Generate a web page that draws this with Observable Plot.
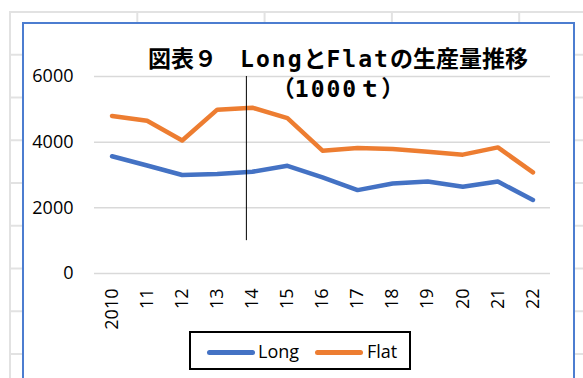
<!DOCTYPE html>
<html>
<head>
<meta charset="utf-8">
<script src="https://cdn.jsdelivr.net/npm/d3@7"></script>
<script src="https://cdn.jsdelivr.net/npm/@observablehq/plot@0.6"></script>
<style>
  html, body { margin: 0; padding: 0; background: #fff; }
  #page { position: relative; width: 583px; height: 378px; overflow: hidden; background: #fff; }
  #sheet {
    position: absolute; left: 9px; top: 11px; width: 700px; height: 500px;
    background-image:
      linear-gradient(to right, #e2e2e2 1.5px, transparent 1.5px),
      linear-gradient(to bottom, #e2e2e2 1.5px, transparent 1.5px);
    background-size: 127.3px 42.75px;
  }
  #box {
    position: absolute; left: 22px; top: 22px; width: 553px; height: 420px;
    box-sizing: border-box; border: 2.5px solid #4c7dd0; background: #fff;
  }
  #plot { position: absolute; left: 0; top: 0; }
  .title {
    position: absolute; left: 98px; width: 480px; text-align: center;
    font-family: "Noto Sans CJK JP", sans-serif; font-weight: 700; font-size: 23px;
    line-height: 23px; color: #000; white-space: nowrap;
  }
  .lat { font-family: "DejaVu Sans Mono", monospace; font-weight: 700; letter-spacing: 2px; }
  #legend {
    position: absolute; left: 189px; top: 331px; width: 222px; height: 39px;
    box-sizing: border-box; border: 2px solid #000; background: #fff;
    font-family: "Open Sans", sans-serif; font-size: 18px; color: #000;
  }
  .sw { position: absolute; top: 17px; height: 5px; width: 48px; border-radius: 3px; }
  .lt { position: absolute; top: 6px; line-height: 24px; }
</style>
</head>
<body>
<div id="page">
  <div id="sheet"></div>
  <div id="box"></div>
  <div id="plot"></div>
  <div class="title" style="top:46px">図表９　<span class="lat">Long</span>と<span class="lat">Flat</span>の生産量推移</div>
  <div class="title" style="top:76px">（<span class="lat">1000</span>ｔ）</div>
  <div id="legend"></div>
</div>
<script>
const years = [2010, 2011, 2012, 2013, 2014, 2015, 2016, 2017, 2018, 2019, 2020, 2021, 2022];
const xTickLabels = ["2010", "11", "12", "13", "14", "15", "16", "17", "18", "19", "20", "21", "22"];
const longValues = [3570, 3290, 3000, 3030, 3100, 3280, 2930, 2540, 2740, 2800, 2640, 2800, 2240];
const flatValues = [4800, 4650, 4050, 4990, 5050, 4730, 3740, 3820, 3790, 3710, 3620, 3840, 3080];
const seriesNames = ["Long", "Flat"];
const seriesColors = ["#4472C4", "#ED7D31"];
const yTicks = [0, 2000, 4000, 6000];
const annotation = [{x: 2013.83, y1: 1000, y2: 6000}];

const data = [];
years.forEach((y, i) => {
  data.push({year: y, value: longValues[i], series: "Long"});
});
years.forEach((y, i) => {
  data.push({year: y, value: flatValues[i], series: "Flat"});
});

const chart = Plot.plot({
  width: 583,
  height: 378,
  marginLeft: 94,
  marginRight: 33,
  marginTop: 76,
  marginBottom: 105,
  style: {fontFamily: "Open Sans, sans-serif", fontSize: "18px", color: "#000", background: "transparent", overflow: "visible"},
  x: {domain: [2009.5, 2022.5]},
  y: {domain: [0, 6000]},
  color: {domain: seriesNames, range: seriesColors},
  marks: [
    Plot.gridY(yTicks, {stroke: "#d9d9d9", strokeOpacity: 1, strokeWidth: 1.5}),
    Plot.axisY(yTicks, {tickSize: 0, tickPadding: 21, label: null, fontSize: 18,
      tickFormat: d => String(d)}),
    Plot.axisX(years, {tickSize: 0, tickPadding: 15, tickRotate: -90, label: null, fontSize: 18,
      tickFormat: d => xTickLabels[years.indexOf(d)]}),
    Plot.line(data, {x: "year", y: "value", stroke: "series", z: "series", strokeWidth: 4.5,
      strokeLinejoin: "round", strokeLinecap: "round"}),
    Plot.ruleX(annotation, {x: "x", y1: "y1", y2: "y2", stroke: "#000", strokeWidth: 1})
  ]
});
document.getElementById("plot").appendChild(chart);

const legend = document.getElementById("legend");
const legendPos = [{sw: 16, tx: 67}, {sw: 124, tx: 176}];
seriesNames.forEach((name, i) => {
  const sw = document.createElement("div");
  sw.className = "sw";
  sw.style.left = legendPos[i].sw + "px";
  sw.style.background = seriesColors[i];
  legend.appendChild(sw);
  const t = document.createElement("div");
  t.className = "lt";
  t.style.left = legendPos[i].tx + "px";
  t.textContent = name;
  legend.appendChild(t);
});
</script>
</body>
</html>
